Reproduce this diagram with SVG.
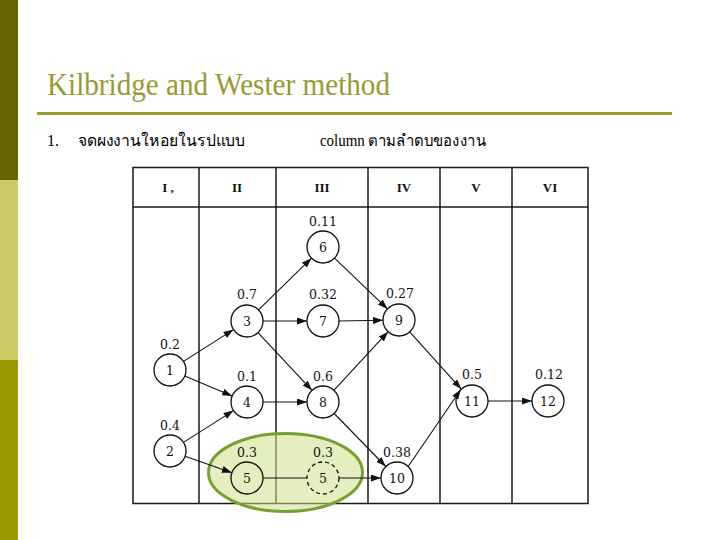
<svg xmlns="http://www.w3.org/2000/svg" width="720" height="540" viewBox="0 0 720 540">
<defs>
<style>
.title{font-family:"Liberation Serif","Times New Roman",serif;font-size:31px;fill:#999933}
.body{font-family:"Liberation Serif","Times New Roman",serif;font-size:16px;fill:#000}
.hdr{font-family:"Liberation Serif","DejaVu Serif",serif;font-size:13px;font-weight:bold;fill:#111;text-anchor:middle}
.grid{stroke:#1a1a1a;stroke-width:1.5;fill:none}
.node circle{fill:none;stroke:#111;stroke-width:1.3}
.node text{font-family:"DejaVu Serif","Liberation Serif",serif;font-size:12.5px;fill:#111;text-anchor:middle}
.edges line{stroke:#111;stroke-width:1.1}
</style>
<marker id="arr" markerUnits="userSpaceOnUse" markerWidth="11" markerHeight="8" refX="10" refY="3.5" orient="auto">
<path d="M0,0 L10,3.5 L0,7 z" fill="#111"/>
</marker>
</defs>
<rect width="720" height="540" fill="#fff"/>
<rect x="0" y="0" width="18" height="180" fill="#666600"/>
<rect x="0" y="180" width="18" height="180" fill="#CCCC66"/>
<rect x="0" y="360" width="18" height="180" fill="#999900"/>
<text class="title" x="47" y="95" textLength="343" lengthAdjust="spacingAndGlyphs">Kilbridge and Wester method</text>
<rect x="37" y="112" width="635" height="3" fill="#999933"/>
<text class="body" x="47" y="146">1.</text>
<text class="body" x="78" y="146" textLength="167" lengthAdjust="spacingAndGlyphs">จดผงงานใหอยในรปแบบ</text>
<text class="body" x="320" y="146" textLength="166" lengthAdjust="spacingAndGlyphs">column ตามลำดบของงาน</text>
<g id="table">
<rect class="grid" x="133" y="167.5" width="455" height="336" stroke-width="2"/>
<line class="grid" x1="133" y1="207" x2="588" y2="207"/>
<line class="grid" x1="199" y1="167.5" x2="199" y2="503.5"/>
<line class="grid" x1="276" y1="167.5" x2="276" y2="503.5"/>
<line class="grid" x1="368" y1="167.5" x2="368" y2="503.5"/>
<line class="grid" x1="440" y1="167.5" x2="440" y2="503.5"/>
<line class="grid" x1="512" y1="167.5" x2="512" y2="503.5"/>
<text class="hdr" x="168" y="192">I ,</text>
<text class="hdr" x="237" y="192">II</text>
<text class="hdr" x="322" y="192">III</text>
<text class="hdr" x="404" y="192">IV</text>
<text class="hdr" x="476" y="192">V</text>
<text class="hdr" x="550" y="192">VI</text>
</g>
<ellipse id="highlight" cx="285.5" cy="472.5" rx="77" ry="39" fill="#cfe08a" fill-opacity="0.55" stroke="#76A130" stroke-width="3"/>
<g id="connectors" class="edges">
<line x1="183.5" y1="361.4" x2="233.5" y2="329.6" marker-end="url(#arr)"/>
<line x1="184.8" y1="376.1" x2="232.2" y2="395.9" marker-end="url(#arr)"/>
<line x1="183.5" y1="442.4" x2="233.5" y2="410.6" marker-end="url(#arr)"/>
<line x1="185.1" y1="456.3" x2="231.9" y2="472.7" marker-end="url(#arr)"/>
<line x1="258.5" y1="309.8" x2="311.5" y2="258.2" marker-end="url(#arr)"/>
<line x1="263" y1="321" x2="307" y2="321" marker-end="url(#arr)"/>
<line x1="258" y1="332.7" x2="312" y2="390.3" marker-end="url(#arr)"/>
<line x1="263" y1="402" x2="307" y2="402" marker-end="url(#arr)"/>
<line x1="334.5" y1="258.1" x2="387.5" y2="308.9" marker-end="url(#arr)"/>
<line x1="339" y1="321" x2="383" y2="320.2" marker-end="url(#arr)"/>
<line x1="333.9" y1="390.3" x2="388.1" y2="331.7" marker-end="url(#arr)"/>
<line x1="334.2" y1="413.5" x2="385.8" y2="466.5" marker-end="url(#arr)"/>
<line x1="263" y1="478" x2="307" y2="478"/>
<line x1="339" y1="478" x2="381" y2="478" marker-end="url(#arr)"/>
<line x1="409.7" y1="331.9" x2="461.3" y2="389.1" marker-end="url(#arr)"/>
<line x1="408.2" y1="466.5" x2="460.8" y2="389.5" marker-end="url(#arr)"/>
<line x1="488" y1="401" x2="532" y2="401" marker-end="url(#arr)"/>
</g>
<g id="n1" class="node"><circle cx="170" cy="370" r="16"/><text x="170" y="375">1</text><text x="170" y="349">0.2</text></g>
<g id="n2" class="node"><circle cx="170" cy="451" r="16"/><text x="170" y="456">2</text><text x="170" y="430">0.4</text></g>
<g id="n3" class="node"><circle cx="247" cy="321" r="16"/><text x="247" y="326">3</text><text x="247" y="299">0.7</text></g>
<g id="n4" class="node"><circle cx="247" cy="402" r="16"/><text x="247" y="407">4</text><text x="247" y="381">0.1</text></g>
<g id="n5" class="node"><circle cx="247" cy="478" r="16"/><text x="247" y="483">5</text><text x="247" y="457">0.3</text></g>
<g id="n5d" class="node"><circle cx="323" cy="478" r="16" stroke-dasharray="4,3"/><text x="323" y="483">5</text><text x="323" y="457">0.3</text></g>
<g id="n6" class="node"><circle cx="323" cy="247" r="16"/><text x="323" y="252">6</text><text x="323" y="226">0.11</text></g>
<g id="n7" class="node"><circle cx="323" cy="321" r="16"/><text x="323" y="326">7</text><text x="323" y="299">0.32</text></g>
<g id="n8" class="node"><circle cx="323" cy="402" r="16"/><text x="323" y="407">8</text><text x="323" y="381">0.6</text></g>
<g id="n9" class="node"><circle cx="399" cy="320" r="16"/><text x="399" y="325">9</text><text x="400" y="298">0.27</text></g>
<g id="n10" class="node"><circle cx="397" cy="478" r="16"/><text x="397" y="483">10</text><text x="397" y="457">0.38</text></g>
<g id="n11" class="node"><circle cx="472" cy="401" r="16"/><text x="472" y="406">11</text><text x="472" y="379">0.5</text></g>
<g id="n12" class="node"><circle cx="548" cy="401" r="16"/><text x="548" y="406">12</text><text x="549" y="379">0.12</text></g>
</svg>
